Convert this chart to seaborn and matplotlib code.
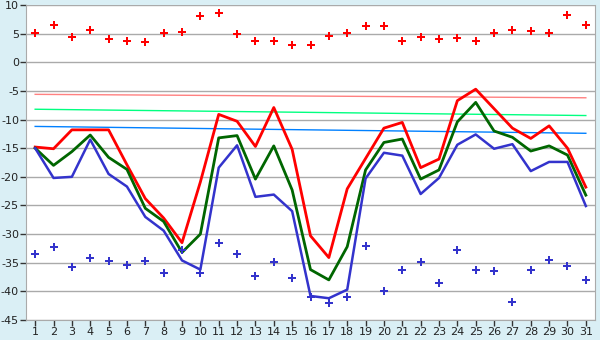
import numpy as np
import pandas as pd
import matplotlib
matplotlib.use('Agg')
import matplotlib.pyplot as plt
import seaborn as sns

days = list(range(1, 32))

red_line = [-14.8, -15.1, -11.8, -11.8, -11.8, -17.9, -23.8, -27.2, -31.5, -20.9,
            -9.1, -10.3, -14.7, -7.9, -15.2, -30.3, -34.1, -22.1, -16.8, -11.5,
            -10.5, -18.4, -16.9, -6.7, -4.7, -8.1, -11.5, -13.3, -11.1, -15.0, -21.8]
green_line = [-15.0, -18.0, -15.6, -12.7, -16.6, -18.7, -25.5, -27.8, -33.2, -30.0,
              -13.2, -12.8, -20.4, -14.6, -22.3, -36.2, -38.0, -32.2, -18.8, -14.0,
              -13.4, -20.4, -18.8, -10.4, -7.0, -12.0, -13.1, -15.5, -14.6, -16.2, -23.2]
blue_line = [-15.0, -20.2, -20.0, -13.5, -19.5, -21.7, -27.0, -29.4, -34.6, -36.2,
             -18.4, -14.5, -23.5, -23.1, -26.0, -40.8, -41.2, -39.7, -20.3, -15.8,
             -16.3, -23.0, -20.2, -14.4, -12.6, -15.1, -14.3, -19.0, -17.4, -17.4, -25.1]
red_points = [5.1, 6.5, 4.4, 5.6, 4.0, 3.7, 3.5, 5.1, 5.2, 8.0,
              8.6, 4.9, 3.7, 3.7, 3.1, 3.1, 4.5, 5.1, 6.3, 6.3,
              3.8, 4.4, 4.0, 4.2, 3.8, 5.1, 5.6, 5.4, 5.1, 8.2, 6.5]
blue_points = [-33.5, -32.3, -35.8, -34.2, -34.7, -35.4, -34.7, -36.8, -32.7, -36.8,
               -31.6, -33.4, -37.4, -34.8, -37.7, -41.0, -42.1, -41.0, -32.0, -40.0,
               -36.3, -34.9, -38.6, -32.8, -36.2, -36.5, -41.9, -36.2, -34.6, -35.6, -38.1]
# trend lines (start, end)
pink_trend = [-5.6, -6.2]
mint_trend = [-8.2, -9.3]
azure_trend = [-11.2, -12.4]

df = pd.DataFrame({'day': days, 'red': red_line, 'green': green_line, 'blue': blue_line,
                   'red_pts': red_points, 'blue_pts': blue_points})

plt.rcParams['axes.unicode_minus'] = False

bg = '#daeff5'
fig = plt.figure(figsize=(6, 3.4), dpi=100, facecolor=bg)
ax = fig.add_axes([0.0433, 0.0588, 0.9484, 0.9265])
ax.set_facecolor('white')

for val in range(-45, 11, 5):
    ax.axhline(val, color='#aaaaaa', lw=1.0, zorder=0)

trend_x = [days[0], days[-1]]
sns.lineplot(x=trend_x, y=pink_trend, color='#ff8080', lw=1.0, ax=ax)
sns.lineplot(x=trend_x, y=mint_trend, color='#00ff80', lw=1.0, ax=ax)
sns.lineplot(x=trend_x, y=azure_trend, color='#0080ff', lw=1.0, ax=ax)

sns.lineplot(data=df, x='day', y='red', color='#ff0000', lw=2.0, ax=ax)
sns.lineplot(data=df, x='day', y='green', color='#006600', lw=2.0, ax=ax)
sns.lineplot(data=df, x='day', y='blue', color='#3333cc', lw=1.8, ax=ax)

sns.scatterplot(data=df, x='day', y='red_pts', color='#ff0000', marker='P', s=28,
                linewidth=0, ax=ax, zorder=5)
sns.scatterplot(data=df, x='day', y='blue_pts', color='#3333cc', marker='P', s=26,
                linewidth=0, ax=ax, zorder=5)

ax.set_xlim(0.5, 31.5)
ax.set_ylim(-45, 10)
ax.set_xticks(days)
ax.set_yticks(range(-45, 11, 5))
ax.set_xlabel('')
ax.set_ylabel('')
for side in ['left', 'bottom', 'right']:
    ax.spines[side].set_color('#aaaaaa')
ax.spines['top'].set_visible(False)
ax.tick_params(axis='x', labelsize=8, color='#333333', length=4, width=1, pad=1)
ax.tick_params(axis='y', labelsize=8, color='#333333', length=4, width=1, pad=1)
plt.setp(ax.get_xticklabels(), color='#222222')
plt.setp(ax.get_yticklabels(), color='#222222')

fig.savefig('out.png', dpi=100, facecolor=bg)
